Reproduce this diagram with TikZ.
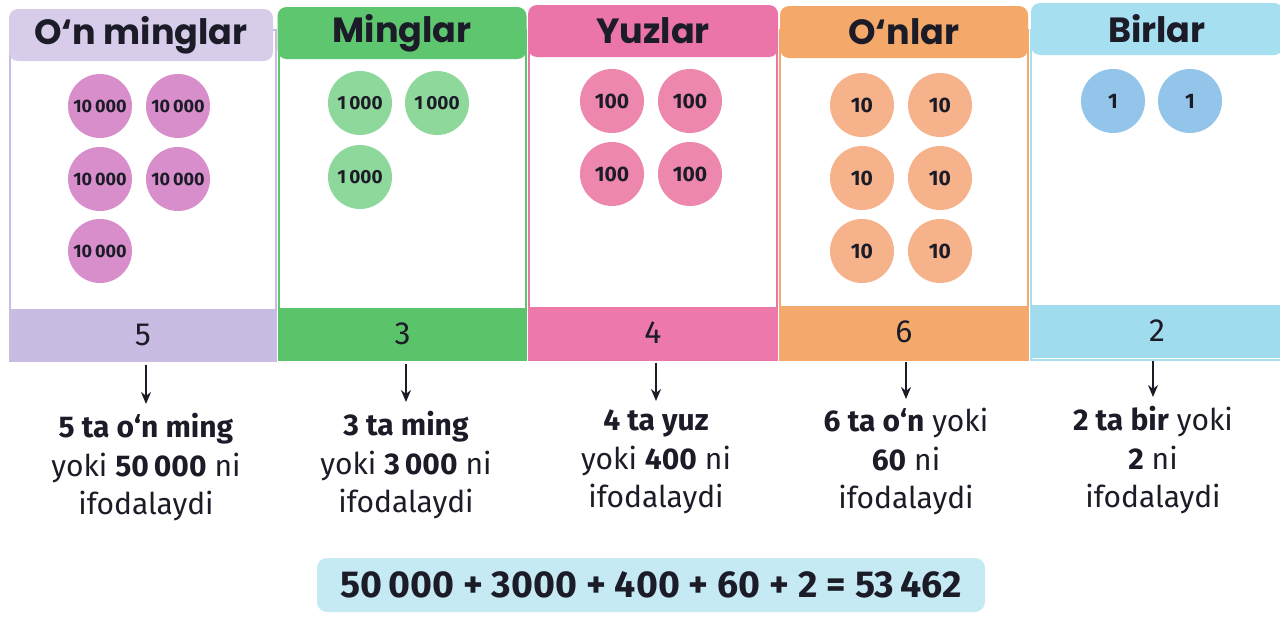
\documentclass[tikz,border=0pt]{standalone}
\usepackage{fontspec}
\setmainfont{Fira Sans}
\newfontfamily\headfont{Poppins}
\usetikzlibrary{arrows.meta}
\definecolor{pHead}{HTML}{D8CCEB}\definecolor{pBand}{HTML}{C8BCE2}\definecolor{pCirc}{HTML}{D78ECB}
\definecolor{gHead}{HTML}{5DC66E}\definecolor{gBand}{HTML}{5BC46B}\definecolor{gCirc}{HTML}{8FD89C}
\definecolor{rHead}{HTML}{EB74A8}\definecolor{rBand}{HTML}{EC79AA}\definecolor{rCirc}{HTML}{EE87AE}
\definecolor{oHead}{HTML}{F4A86A}\definecolor{oBand}{HTML}{F5AA6D}\definecolor{oCirc}{HTML}{F6B28B}
\definecolor{cHead}{HTML}{A6E0F0}\definecolor{cBand}{HTML}{A0DCEE}\definecolor{cCirc}{HTML}{93C5EA}
\definecolor{eqBox}{HTML}{C6EAF4}\definecolor{ink}{HTML}{1C1C28}
\tikzset{
  hdr/.style={rounded corners=9pt, minimum height=52pt, text=ink,
    font=\headfont\fontsize{35}{38}\selectfont\bfseries, inner sep=0pt},
  body/.style={line width=2pt, fill=white},
  band/.style={minimum height=53pt, inner sep=0pt, text=ink,
    font=\fontsize{32}{36}\selectfont},
  coin/.style={circle, minimum size=64pt, inner sep=0pt, text=ink,
    font=\fontsize{21}{22}\selectfont\bfseries},
  bigcoin/.style={coin, font=\fontsize{18}{19}\selectfont\bfseries},
  midcoin/.style={coin, font=\fontsize{19}{20}\selectfont\bfseries},
  desc/.style={align=center, anchor=north, text=ink,
    font=\fontsize{30}{38.5}\selectfont, inner sep=0pt},
  arr/.style={-{Stealth[length=12pt,width=10pt]}, line width=1.8pt, ink}
}
\begin{document}
\begin{tikzpicture}[x=1pt,y=-1pt]
\useasboundingbox (0,0) rectangle (1280,616);
% bodies
\draw[body, draw=pBand] (10,30) rectangle (276,360);
\draw[body, draw=gHead] (279,30) rectangle (526,360);
\draw[body, draw=rHead] (529,30) rectangle (777,360);
\draw[body, draw=oHead] (780,30) rectangle (1028,360);
\draw[body, draw=cHead] (1031,30) rectangle (1281,360);
% headers
\node[hdr, fill=pHead, minimum width=264pt] (h1) at (141,35) {O‘n minglar};
\node[hdr, fill=gHead, minimum width=249pt] (h2) at (402,33) {Minglar};
\node[hdr, fill=rHead, minimum width=250pt] (h3) at (653,31) {Yuzlar};
\node[hdr, fill=oHead, minimum width=248pt] (h4) at (904,32) {O‘nlar};
\node[hdr, fill=cHead, minimum width=252pt] (h5) at (1157,29) {Birlar};
% bands
\node[band, fill=pBand, minimum width=268pt] (b1) at (143,335) {5};
\node[band, fill=gBand, minimum width=249pt] (b2) at (402.5,334) {3};
\node[band, fill=rBand, minimum width=250pt] (b3) at (653,333) {4};
\node[band, fill=oBand, minimum width=250pt] (b4) at (904,332) {6};
\node[band, fill=cBand, minimum width=252pt] (b5) at (1157,331) {2};
% coins: ten thousands
\node[bigcoin, fill=pCirc] (p1) at (100,106) {10\,000};
\node[bigcoin, fill=pCirc] (p2) at (178,106) {10\,000};
\node[bigcoin, fill=pCirc] (p3) at (100,179) {10\,000};
\node[bigcoin, fill=pCirc] (p4) at (178,179) {10\,000};
\node[bigcoin, fill=pCirc] (p5) at (100,251) {10\,000};
% thousands
\node[midcoin, fill=gCirc] (g1) at (360,103) {1\,000};
\node[midcoin, fill=gCirc] (g2) at (437,103) {1\,000};
\node[midcoin, fill=gCirc] (g3) at (360,177) {1\,000};
% hundreds
\node[coin, fill=rCirc] (r1) at (612,101) {100};
\node[coin, fill=rCirc] (r2) at (690,101) {100};
\node[coin, fill=rCirc] (r3) at (612,174) {100};
\node[coin, fill=rCirc] (r4) at (690,174) {100};
% tens
\node[coin, fill=oCirc] (o1) at (862,105) {10};
\node[coin, fill=oCirc] (o2) at (940,105) {10};
\node[coin, fill=oCirc] (o3) at (862,178) {10};
\node[coin, fill=oCirc] (o4) at (940,178) {10};
\node[coin, fill=oCirc] (o5) at (862,251) {10};
\node[coin, fill=oCirc] (o6) at (940,251) {10};
% ones
\node[coin, fill=cCirc] (u1) at (1113,101) {1};
\node[coin, fill=cCirc] (u2) at (1190,101) {1};
% descriptions
\node[desc] (t1) at (146,413) {\textbf{5 ta o‘n ming}\\yoki \textbf{50\,000} ni\\ifodalaydi};
\node[desc] (t2) at (406,411) {\textbf{3 ta ming}\\yoki \textbf{3\,000} ni\\ifodalaydi};
\node[desc] (t3) at (656,410) {\textbf{4 ta yuz}\\yoki \textbf{400} ni\\ifodalaydi};
\node[desc] (t4) at (906,408) {\textbf{6 ta o‘n} yoki\\\textbf{60} ni\\ifodalaydi};
\node[desc] (t5) at (1153,406) {\textbf{2 ta bir} yoki\\\textbf{2} ni\\ifodalaydi};
% arrows
\draw[arr, shorten <=3pt, shorten >=9pt] (b1.south -| t1.north) -- (t1.north);
\draw[arr, shorten <=3pt, shorten >=9pt] (b2.south -| t2.north) -- (t2.north);
\draw[arr, shorten <=3pt, shorten >=9pt] (b3.south -| t3.north) -- (t3.north);
\draw[arr, shorten <=3pt, shorten >=9pt] (b4.south -| t4.north) -- (t4.north);
\draw[arr, shorten <=3pt, shorten >=9pt] (b5.south -| t5.north) -- (t5.north);
% equation
\node[fill=eqBox, rounded corners=10pt, minimum width=668pt, minimum height=54pt,
  text=ink, font=\fontsize{37.5}{40}\selectfont\bfseries] (eq) at (651,585)
  {50\,000 + 3000 + 400 + 60 + 2 = 53\,462};
\end{tikzpicture}
\end{document}
